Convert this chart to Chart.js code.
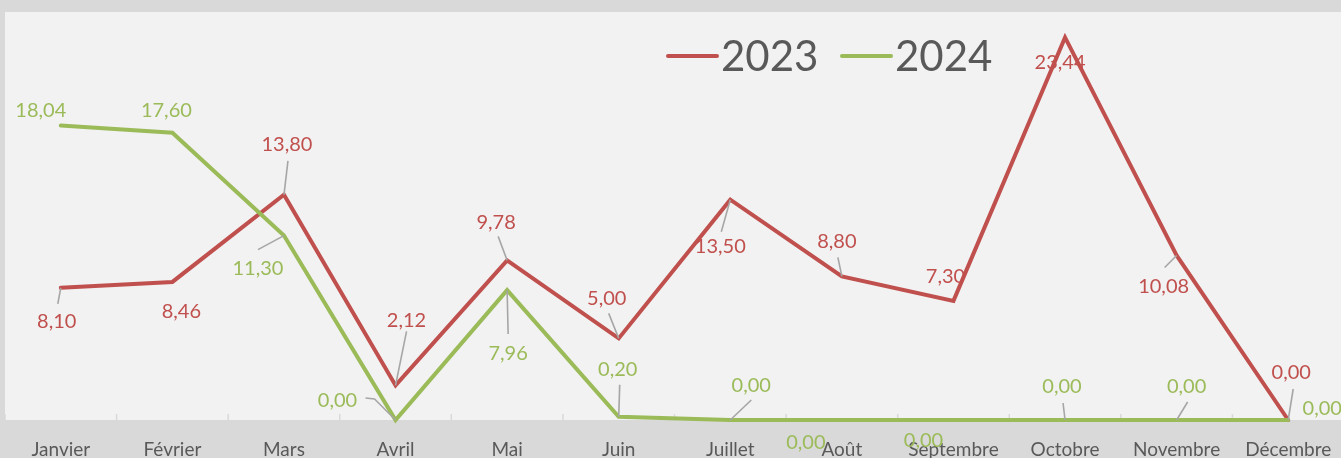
<!DOCTYPE html>
<html>
<head>
<meta charset="utf-8">
<script src="https://cdn.jsdelivr.net/npm/chart.js@4.4.1/dist/chart.umd.min.js"></script>
<style>
  html, body { margin: 0; padding: 0; overflow: hidden; background: #d9d9d9; }
  #wrap { width: 1341px; height: 458px; overflow: hidden; position: relative; }
  canvas { display: block; }
</style>
</head>
<body>
<div id="wrap"><canvas id="c" width="1344" height="458"></canvas></div>
<script>
// ---- Data ----
const months = ['Janvier', 'Février', 'Mars', 'Avril', 'Mai', 'Juin', 'Juillet', 'Août', 'Septembre', 'Octobre', 'Novembre', 'Décembre'];
const seriesNames = ['2023', '2024'];
const values2023 = [8.10, 8.46, 13.80, 2.12, 9.78, 5.00, 13.50, 8.80, 7.30, 23.44, 10.08, 0.00];
const values2024 = [18.04, 17.60, 11.30, 0.00, 7.96, 0.20, 0.00, 0.00, 0.00, 0.00, 0.00, 0.00];
const yMin = 0;
const yMax = 25;

// ---- Styles ----
const RED = '#c0504d';
const GREEN = '#9bbb59';
const TEXT = '#595959';
const LEADER = '#a6a6a6';
const FONT = "Lato, 'Open Sans', sans-serif";

// Data-label placement (offset of label centre from its point, and leader end points)
const place2023 = [
  {dx: -4, dy: 34, lead: [[-3, 16]]},
  {dx: 9, dy: 30, lead: null},
  {dx: 3, dy: -50, lead: [[4, -34]]},
  {dx: 11, dy: -65, lead: [[11, -54]]},
  {dx: -11, dy: -38, lead: [[-9, -24]]},
  {dx: -12, dy: -40, lead: [[-10, -25]]},
  {dx: -10, dy: 47, lead: [[-9, 32]]},
  {dx: -5, dy: -35, lead: [[-4, -19]]},
  {dx: -8, dy: -24, lead: null},
  {dx: -5, dy: 25, lead: null},
  {dx: -13, dy: 31, lead: [[-12, 12]]},
  {dx: 3, dy: -47, lead: [[5, -31]]}
];
const place2024 = [
  {dx: -20, dy: -15, lead: null},
  {dx: -6, dy: -22, lead: null},
  {dx: -26, dy: 33, lead: [[-26, 14]]},
  {dx: -58, dy: -19, lead: [[-21, -21], [-30, -22]]},
  {dx: 1, dy: 63, lead: [[1, 44]]},
  {dx: -1, dy: -47, lead: [[1, -32]]},
  {dx: 21, dy: -34, lead: [[21, -20]]},
  {dx: -36, dy: 23, lead: null},
  {dx: -30, dy: 21, lead: null},
  {dx: -3, dy: -33, lead: [[-2, -17]]},
  {dx: 10, dy: -33, lead: [[11, -18]]},
  {dx: 34, dy: -11, lead: null}
];
const legendX = [668, 842];
const legendY = 56;

function fmt(v) { return v.toFixed(2).replace('.', ','); }

const decorPlugin = {
  id: 'decor',
  beforeDraw(chart) {
    const ctx = chart.ctx, a = chart.chartArea;
    ctx.save();
    ctx.fillStyle = '#d9d9d9';
    ctx.fillRect(0, 0, chart.width, chart.height);
    ctx.fillStyle = '#f2f2f2';
    ctx.fillRect(a.left, a.top, a.right - a.left, a.bottom - a.top);
    ctx.restore();
  },
  beforeDatasetsDraw(chart) {
    const ctx = chart.ctx, a = chart.chartArea, xs = chart.scales.x;
    ctx.save();
    ctx.strokeStyle = '#d9d9d9';
    ctx.lineWidth = 1.5;
    ctx.beginPath();
    for (let i = 0; i <= months.length; i++) {
      const x = xs.getPixelForValue(i - 0.5);
      ctx.moveTo(x, a.bottom);
      ctx.lineTo(x, a.bottom - 6);
    }
    ctx.stroke();
    ctx.restore();
  },
  afterDatasetsDraw(chart) {
    const ctx = chart.ctx;
    const places = [place2023, place2024];
    ctx.save();
    chart.data.datasets.forEach((ds, di) => {
      const meta = chart.getDatasetMeta(di);
      const pl = places[di];
      // leaders
      ctx.strokeStyle = LEADER;
      ctx.lineWidth = 1.6;
      meta.data.forEach((pt, i) => {
        const p = pl[i];
        if (!p || !p.lead) return;
        ctx.beginPath();
        ctx.moveTo(pt.x, pt.y);
        p.lead.forEach(q => ctx.lineTo(pt.x + q[0], pt.y + q[1]));
        ctx.stroke();
      });
      // labels
      ctx.fillStyle = ds.borderColor;
      ctx.font = '20px ' + FONT;
      ctx.textAlign = 'center';
      ctx.textBaseline = 'middle';
      meta.data.forEach((pt, i) => {
        const p = pl[i];
        ctx.fillText(fmt(ds.data[i]), pt.x + p.dx, pt.y + p.dy);
      });
    });
    // legend
    chart.data.datasets.forEach((ds, di) => {
      const x = legendX[di];
      ctx.strokeStyle = ds.borderColor;
      ctx.lineWidth = 4;
      ctx.lineCap = 'round';
      ctx.beginPath();
      ctx.moveTo(x, legendY);
      ctx.lineTo(x + 49, legendY);
      ctx.stroke();
      ctx.fillStyle = TEXT;
      ctx.font = '42px ' + FONT;
      ctx.textAlign = 'left';
      ctx.textBaseline = 'alphabetic';
      ctx.fillText(ds.label, x + 53, 71);
    });
    ctx.restore();
  }
};

new Chart(document.getElementById('c'), {
  type: 'line',
  data: {
    labels: months,
    datasets: [
      {
        label: seriesNames[0], data: values2023,
        borderColor: RED, backgroundColor: RED, borderWidth: 4,
        pointRadius: 0, tension: 0, borderJoinStyle: 'miter', borderCapStyle: 'round',
        clip: false, order: 1
      },
      {
        label: seriesNames[1], data: values2024,
        borderColor: GREEN, backgroundColor: GREEN, borderWidth: 4,
        pointRadius: 0, tension: 0, borderJoinStyle: 'miter', borderCapStyle: 'round',
        clip: false, order: 0
      }
    ]
  },
  options: {
    responsive: false,
    animation: false,
    devicePixelRatio: 1,
    layout: { padding: { left: 5, top: 12, right: 0, bottom: 0 } },
    plugins: { legend: { display: false }, tooltip: { enabled: false } },
    scales: {
      x: {
        offset: true,
        grid: { display: false, drawTicks: false },
        border: { display: false },
        ticks: {
          color: TEXT, font: { family: FONT, size: 19 }, padding: 18,
          maxRotation: 0, autoSkip: false
        },
        afterFit(s) { s.height = 38; s.paddingLeft = 0; s.paddingRight = 0; }
      },
      y: {
        display: false,
        min: yMin, max: yMax
      }
    }
  },
  plugins: [decorPlugin]
});
</script>
</body>
</html>
